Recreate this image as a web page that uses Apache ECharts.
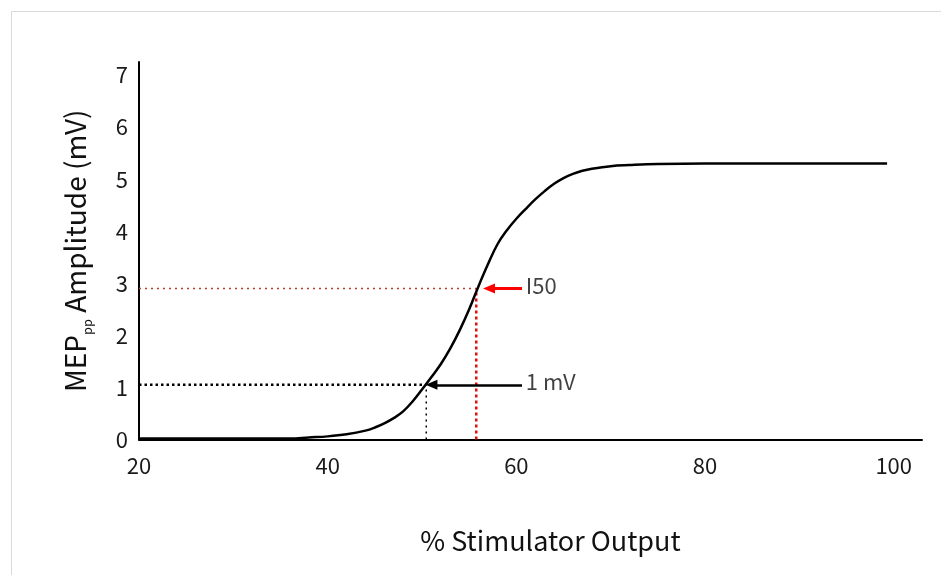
<!DOCTYPE html>
<html>
<head>
<meta charset="utf-8">
<script src="https://cdn.jsdelivr.net/npm/echarts@6/dist/echarts.min.js"></script>
<style>html,body{margin:0;padding:0;background:#fff}#c{width:941px;height:575px}</style>
</head>
<body>
<div id="c"></div>
<script>
// Recruitment curve
const stimX = [20, 30, 36, 38, 40, 42, 44, 45, 46, 47, 48, 49, 50, 51, 52, 53, 54, 55, 56, 57, 58, 59, 60, 61, 62, 63, 64, 65, 66, 67, 68, 70, 72, 75, 80, 90, 99.3];
const mepY  = [0.02, 0.02, 0.02, 0.04, 0.06, 0.1, 0.17, 0.23, 0.31, 0.41, 0.54, 0.73, 0.96, 1.2, 1.45, 1.75, 2.1, 2.5, 2.95, 3.37, 3.75, 4.02, 4.24, 4.43, 4.61, 4.77, 4.91, 5.02, 5.1, 5.16, 5.2, 5.25, 5.27, 5.29, 5.3, 5.3, 5.3];
const xTicks = [20, 40, 60, 80, 100];
const yTicks = [0, 1, 2, 3, 4, 5, 6, 7];
// Reference markers
const i50X = 55.75, i50Y = 2.9;
const oneMvX = 50.45, oneMvY = 1.05;
const arrowTail = 60.6;
const i50ArrowTip = 57.1, oneMvArrowTip = 51.0;
const labels = [
  {name: 'I50', x: 61.0, y: 2.96},
  {name: '1 mV', x: 61.0, y: 1.12}
];

const FONT = 'Noto Sans CJK KR';
const curve = stimX.map((x, i) => [x, mepY[i]]);
const chart = echarts.init(document.getElementById('c'), null, {renderer: 'canvas'});
chart.setOption({
  animation: false,
  backgroundColor: '#fff',
  textStyle: {fontFamily: FONT},
  graphic: [{
    type: 'rect', left: 9, top: 9, z: -10,
    shape: {x: 0, y: 0, width: 1000, height: 1000},
    style: {fill: 'none', stroke: '#d9d9d9', lineWidth: 1}
  }],
  grid: {left: 139, top: 62, right: 19, bottom: 135.5, containLabel: false},
  xAxis: {
    type: 'value', min: 20, max: 103, interval: 20,
    axisLine: {lineStyle: {color: '#000', width: 2}},
    axisTick: {show: false},
    splitLine: {show: false},
    axisLabel: {
      fontSize: 22, color: '#1a1a1a', margin: 15, fontFamily: FONT,
      showMaxLabel: false,
      formatter: v => xTicks.includes(v) ? String(v) : ''
    },
    name: '% Stimulator Output', nameLocation: 'middle', nameGap: 88,
    nameTextStyle: {fontSize: 27, color: '#111', fontFamily: FONT, padding: [0, 0, 0, 40]}
  },
  yAxis: {
    type: 'value', min: 0, max: 7.25, interval: 1,
    axisLine: {show: true, lineStyle: {color: '#000', width: 2}},
    axisTick: {show: false},
    splitLine: {show: false},
    axisLabel: {
      fontSize: 22, color: '#1a1a1a', margin: 11, fontFamily: FONT,
      showMaxLabel: false,
      formatter: v => yTicks.includes(v) ? String(v) : ''
    },
    name: '{a|MEP}{b|pp}{a| Amplitude (mV)}', nameLocation: 'middle', nameGap: 50,
    nameTextStyle: {
      color: '#111', fontFamily: FONT,
      rich: {
        a: {fontSize: 28, color: '#111', fontFamily: FONT, verticalAlign: 'bottom', lineHeight: 36},
        b: {fontSize: 13, color: '#111', fontFamily: FONT, verticalAlign: 'bottom', lineHeight: 36, padding: [0, 0, -5, 0]}
      }
    }
  },
  series: [
    {
      type: 'line', data: curve, smooth: 0.4, showSymbol: false, z: 5,
      lineStyle: {color: '#000', width: 2.5}
    },
    {
      type: 'line', data: [[20, i50Y], [i50X, i50Y]], showSymbol: false, z: 3,
      lineStyle: {color: '#c0392b', width: 1.5, type: [2, 4]}
    },
    {
      type: 'line', data: [[i50X, 0], [i50X, i50Y]], showSymbol: false, z: 3,
      lineStyle: {color: '#e01010', width: 2.5, type: [3, 3]}
    },
    {
      type: 'line', data: [[20, oneMvY], [oneMvX, oneMvY]], showSymbol: false, z: 3,
      lineStyle: {color: '#000', width: 2.5, type: [2.5, 3]}
    },
    {
      type: 'line', data: [[oneMvX, 0], [oneMvX, oneMvY]], showSymbol: false, z: 3,
      lineStyle: {color: '#000', width: 1.5, type: [2, 4]}
    },
    {
      type: 'line', data: [], showSymbol: false,
      markLine: {
        silent: true, animation: false,
        symbol: ['none', 'triangle'], symbolSize: [10, 12],
        label: {show: false},
        data: [
          [{coord: [arrowTail, i50Y], lineStyle: {color: '#ff0000', width: 3, type: 'solid'}}, {coord: [i50ArrowTip, i50Y]}],
          [{coord: [arrowTail, oneMvY], lineStyle: {color: '#000', width: 2.5, type: 'solid'}}, {coord: [oneMvArrowTip, oneMvY]}]
        ]
      }
    },
    {
      type: 'scatter', symbolSize: 0,
      data: labels.map(l => ({name: l.name, value: [l.x, l.y]})),
      label: {show: true, position: 'right', distance: 0, formatter: p => p.name, fontSize: 22, color: '#111', fontFamily: FONT}
    }
  ]
});
</script>
</body>
</html>
